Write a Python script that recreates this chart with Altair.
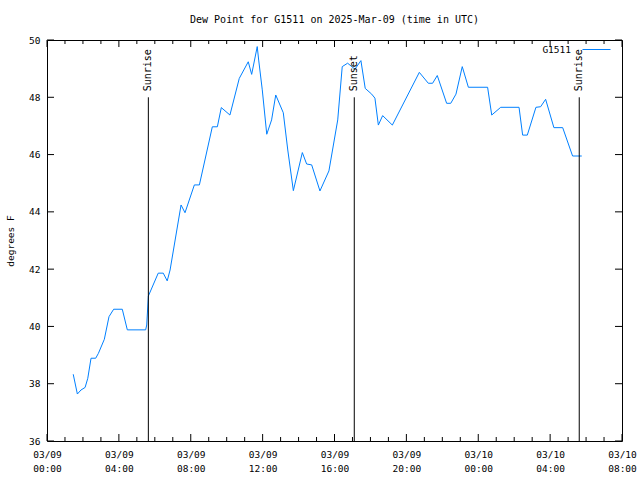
import altair as alt
import pandas as pd

# ---- data (hours since 2025-03-09 00:00 UTC) ----
hours = [1.46, 1.69, 1.89, 2.12, 2.27, 2.45, 2.71, 2.86, 3.19, 3.45,
         3.71, 4.19, 4.47, 5.49, 5.55, 5.64, 6.19, 6.47, 6.69, 6.85,
         7.46, 7.68, 8.20, 8.48, 9.20, 9.48, 9.70, 10.18, 10.70, 11.20,
         11.39, 11.70, 11.78, 11.98, 12.23, 12.50, 12.73, 13.15, 13.40, 13.71,
         14.21, 14.45, 14.73, 15.19, 15.69, 16.18, 16.43, 16.73, 17.14, 17.47,
         17.71, 18.07, 18.25, 18.44, 18.68, 19.22, 20.72, 21.22, 21.46, 21.72,
         22.24, 22.47, 22.76, 23.11, 23.45, 24.52, 24.75, 25.25, 26.27, 26.47,
         26.73, 27.21, 27.47, 27.75, 28.21, 28.70, 29.25, 29.76]
dew_f = [38.33, 37.64, 37.78, 37.87, 38.19, 38.89, 38.89, 39.06, 39.55, 40.34,
         40.60, 40.60, 39.88, 39.88, 40.05, 41.06, 41.86, 41.86, 41.59, 41.97,
         44.24, 43.97, 44.94, 44.94, 46.97, 46.97, 47.64, 47.38, 48.66, 49.24,
         48.80, 49.77, 49.30, 48.26, 46.71, 47.21, 48.08, 47.46, 46.16, 44.74,
         46.07, 45.67, 45.64, 44.73, 45.43, 47.21, 49.07, 49.19, 48.98, 49.28,
         48.31, 48.11, 47.97, 47.03, 47.36, 47.03, 48.87, 48.49, 48.49, 48.76,
         47.79, 47.79, 48.11, 49.07, 48.35, 48.35, 47.38, 47.65, 47.65, 46.68,
         46.68, 47.65, 47.67, 47.93, 46.94, 46.94, 45.95, 45.95]
station = "G1511"

event_names = ["Sunrise", "Sunset", "Sunrise"]
event_hours = [5.64, 17.10, 29.62]
event_top = [48, 48, 48]
event_bottom = [36, 36, 36]

x_major = [0, 4, 8, 12, 16, 20, 24, 28, 32]
x_minor = [h for h in range(0, 33) if h % 4 != 0]
y_major = [36, 38, 40, 42, 44, 46, 48, 50]

df = pd.DataFrame({"h": hours, "v": dew_f, "station": [station] * len(hours)})
ev = pd.DataFrame({"h": event_hours, "name": event_names,
                   "top": event_top, "bottom": event_bottom})
xmaj = pd.DataFrame({"t": x_major})
xmin = pd.DataFrame({"t": x_minor})
ymaj = pd.DataFrame({"t": y_major})

FONT = "DejaVu Sans Mono"
W, H = 575, 401
MAJ, MIN = 7, 4
xs = alt.Scale(domain=[0, 32], nice=False, zero=False)
ys = alt.Scale(domain=[36, 50], nice=False, zero=False)

label_expr = ("[(datum.value < 24 ? '03/09' : '03/10'), "
              "((datum.value % 24) < 10 ? '0' : '') + (datum.value % 24) + ':00']")

main = alt.Chart(df).mark_line(strokeWidth=1).encode(
    x=alt.X("h:Q", scale=xs, axis=alt.Axis(
        orient="bottom", values=x_major, labelExpr=label_expr, ticks=False, tickSize=0,
        domain=False, grid=False, labelPadding=8, labelFont=FONT, labelFontSize=9.5,
        labelLineHeight=14, labelBaseline="top", labelAlign="center", title=None,
        labelOverlap=False, labelFlush=False, labelColor="black")),
    y=alt.Y("v:Q", scale=ys, axis=alt.Axis(
        orient="left", values=y_major, ticks=False, tickSize=0, domain=False, grid=False,
        labelPadding=7, labelFont=FONT, labelFontSize=9.5, labelColor="black",
        title="degrees F", titleFont=FONT, titleFontSize=9.5, titleFontWeight="normal",
        titleColor="black", titleX=-37, titleY=200.5, titleAngle=270,
        titleAlign="center", titleBaseline="middle")),
    color=alt.Color("station:N", scale=alt.Scale(domain=[station], range=["#0080ff"]),
                    legend=alt.Legend(orient="none", legendX=535, legendY=-5, title=None,
                                      symbolType="stroke", symbolSize=784,
                                      symbolStrokeWidth=1, labelAlign="right",
                                      labelOffset=alt.ExprRef("-40"), labelFont=FONT,
                                      labelFontSize=9.5, labelColor="black", padding=0)),
)

tick_style = dict(color="black", strokeWidth=1)


def xticks(data, y0, y1):
    return alt.Chart(data).mark_rule(**tick_style).encode(
        x=alt.X("t:Q", scale=xs, axis=None),
        y=alt.value(y0), y2=alt.value(y1))


def yticks(x0, x1):
    return alt.Chart(ymaj).mark_rule(**tick_style).encode(
        y=alt.Y("t:Q", scale=ys, axis=None),
        x=alt.value(x0), x2=alt.value(x1))


ticks = [
    xticks(xmaj, H, H - MAJ), xticks(xmin, H, H - MIN),
    xticks(xmaj, 0, MAJ), xticks(xmin, 0, MIN),
    yticks(0, MAJ), yticks(W, W - MAJ),
]

rules = alt.Chart(ev).mark_rule(color="black", strokeWidth=1).encode(
    x=alt.X("h:Q", scale=xs, axis=None),
    y=alt.Y("top:Q", scale=ys, axis=None),
    y2="bottom:Q",
)
labels = alt.Chart(ev).mark_text(angle=270, align="left", baseline="middle", dx=6,
                                 font=FONT, fontSize=10, color="black").encode(
    x=alt.X("h:Q", scale=xs, axis=None),
    y=alt.Y("top:Q", scale=ys, axis=None),
    text="name:N",
)

chart = alt.layer(main, *ticks, rules, labels).resolve_axis(
    x="independent", y="independent"
).properties(
    width=W, height=H,
    title=alt.TitleParams("Dew Point for G1511 on 2025-Mar-09 (time in UTC)",
                          font=FONT, fontSize=10, fontWeight="normal", color="black",
                          anchor="middle", frame="group", baseline="middle", offset=5),
    autosize=alt.AutoSizeParams(type="none"),
    padding={"left": 47, "top": 40, "right": 18, "bottom": 39},
    background="white",
).configure_view(stroke="black", strokeWidth=1)

chart.save("out.html", embed_options={"renderer": "svg", "actions": False})
